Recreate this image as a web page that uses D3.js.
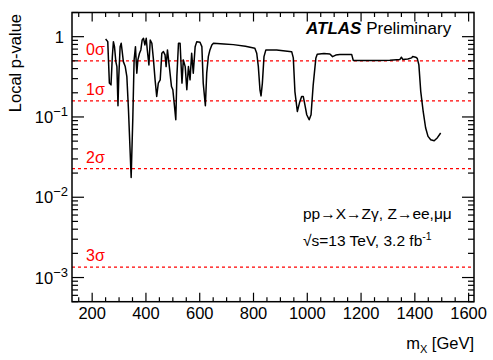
<!DOCTYPE html>
<html><head><meta charset="utf-8">
<script src="https://cdn.jsdelivr.net/npm/d3@7"></script>
<style>
html,body{margin:0;padding:0;background:#fff;}
text{font-family:"Liberation Sans",Arial,sans-serif;}
</style></head>
<body><svg id="c" width="493" height="360"></svg>
<script>
const massGeV = [250,258,264,270,275,279,283,288,292,296,299,304,308,311,316,323,329,335,345,351,356,361,366,370,376,381,386,391,396,401,405,411,416,422,428,434,440,446,453,459,465,471,475,480,487,495,500,505,511,515,521,527,531,534,539,546,552,558,564,570,576,583,589,601,608,613,621,626,632,638,645,651,690,725,770,805,812,818,824,828,833,839,846,870,886,910,942,948,954,963,971,979,985,991,998,1007,1014,1022,1032,1037,1062,1084,1094,1106,1121,1140,1165,1171,1214,1262,1307,1344,1350,1355,1374,1388,1392,1403,1409,1415,1422,1431,1440,1449,1459,1472,1484,1496];
const pValue = [0.936,0.867,0.264,0.251,0.564,0.867,0.751,0.489,0.424,0.138,0.318,0.751,0.828,0.684,0.489,0.424,0.318,0.123,0.0176,0.0923,0.514,0.751,0.351,0.514,0.622,0.684,0.910,0.955,0.789,0.955,0.684,0.445,0.910,0.828,0.514,0.290,0.180,0.264,0.290,0.622,0.651,0.592,0.424,0.684,0.424,0.239,0.218,0.149,0.0923,0.318,0.828,0.828,0.424,0.264,0.514,0.424,0.218,0.424,0.290,0.622,0.351,0.751,0.867,0.852,0.751,0.264,0.138,0.351,0.564,0.684,0.789,0.828,0.81,0.796,0.76,0.718,0.622,0.424,0.218,0.183,0.264,0.564,0.684,0.68,0.684,0.67,0.651,0.544,0.207,0.117,0.150,0.180,0.180,0.142,0.1065,0.0923,0.1065,0.251,0.544,0.604,0.618,0.610,0.564,0.59,0.601,0.601,0.601,0.506,0.506,0.506,0.509,0.518,0.555,0.521,0.528,0.544,0.567,0.555,0.536,0.445,0.207,0.117,0.0734,0.0573,0.0521,0.0506,0.0552,0.0631];
const sigmaLabels = ["0σ","1σ","2σ","3σ"];
const sigmaP = [0.5,0.158655,0.02275,0.0013499];
const xTicks = [200,400,600,800,1000,1200,1400,1600];
const yTickExp = [0,-1,-2,-3];

const svg = d3.select("#c");
const L=72,R=474,T=12.5,B=301.7;
const x = d3.scaleLinear().domain([125,1620]).range([L,R]);
const y = d3.scaleLog().domain([5e-4,2]).range([B,T]);

// sigma lines
const sg = svg.append("g");
sigmaP.forEach((p,i)=>{
  sg.append("line").attr("x1",L).attr("x2",R).attr("y1",y(p)).attr("y2",y(p))
    .attr("stroke","#ff0000").attr("stroke-width",1.3).attr("stroke-dasharray","3,3");
  sg.append("text").attr("x",86).attr("y",y(p)-6).attr("fill","#ff0000")
    .attr("font-size",16).text(sigmaLabels[i]);
});

// curve
svg.append("path").datum(massGeV.map((m,i)=>[m,pValue[i]]))
  .attr("fill","none").attr("stroke","#000").attr("stroke-width",1.5).attr("stroke-linejoin","round")
  .attr("d",d3.line().x(d=>x(d[0])).y(d=>y(d[1])));

// ticks
const tg = svg.append("g").attr("stroke","#000").attr("stroke-width",1.2);
d3.range(150,1601,50).forEach(v=>{
  const major = v%200===0, len = major?9:4.5;
  tg.append("line").attr("x1",x(v)).attr("x2",x(v)).attr("y1",B).attr("y2",B-len);
  tg.append("line").attr("x1",x(v)).attr("x2",x(v)).attr("y1",T).attr("y2",T+len);
});
for(let e=-4;e<=0;e++){
  for(let k=1;k<=9;k++){
    const v=k*Math.pow(10,e);
    if(v<5e-4||v>2) continue;
    const len = k===1?12:6;
    tg.append("line").attr("x1",L).attr("x2",L+len).attr("y1",y(v)).attr("y2",y(v));
    tg.append("line").attr("x1",R).attr("x2",R-len).attr("y1",y(v)).attr("y2",y(v));
  }
}
// frame
svg.append("rect").attr("x",L).attr("y",T).attr("width",R-L).attr("height",B-T)
  .attr("fill","none").attr("stroke","#000").attr("stroke-width",1.5);

// x labels
svg.append("g").selectAll("text").data(xTicks).join("text")
  .attr("x",d=>x(d)).attr("y",319).attr("text-anchor","middle").attr("font-size",16.5).text(d=>d);
// y labels
yTickExp.forEach(e=>{
  const t = svg.append("text").attr("y",y(Math.pow(10,e))+6).attr("font-size",16.5);
  if(e===0){ t.attr("x",64).attr("text-anchor","end").text("1"); }
  else {
    t.attr("x",68).attr("text-anchor","end");
    t.append("tspan").text("10");
    t.append("tspan").attr("dy",-7).attr("font-size",13).text("−"+(-e));
  }
});

// axis titles
svg.append("text").attr("transform","translate(21,14) rotate(-90)").attr("text-anchor","end")
  .attr("font-size",16.5).text("Local p-value");
const xt = svg.append("text").attr("x",474).attr("y",349).attr("text-anchor","end").attr("font-size",16.5);
xt.append("tspan").text("m");
xt.append("tspan").attr("font-size",11).attr("dy",4).text("X");
xt.append("tspan").attr("dy",-4).text(" [GeV]");

// ATLAS label
const at = svg.append("text").attr("x",306).attr("y",34).attr("font-size",17);
at.append("tspan").attr("font-weight","bold").attr("font-style","italic").text("ATLAS");
at.append("tspan").text(" Preliminary");

svg.append("text").attr("x",303).attr("y",219).attr("font-size",15.5).text("pp→X→Zγ, Z→ee,μμ");
const s2 = svg.append("text").attr("x",303).attr("y",246).attr("font-size",15.5);
s2.append("tspan").text("√s=13 TeV, 3.2 fb");
s2.append("tspan").attr("dy",-6).attr("font-size",10.5).text("-1");
</script></body></html>
